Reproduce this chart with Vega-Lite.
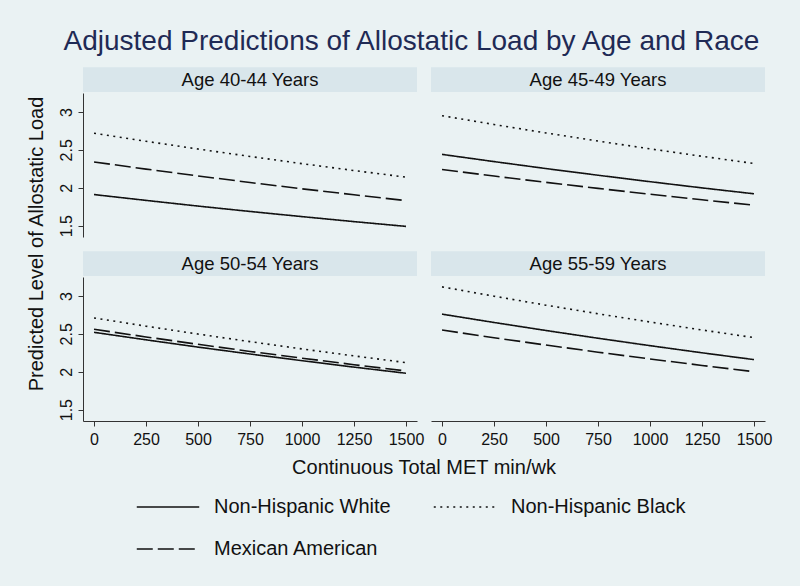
{
  "$schema": "https://vega.github.io/schema/vega-lite/v6.json",
  "background": "#EAF2F3",
  "padding": {"left": 26, "top": 28, "right": 34, "bottom": 30},
  "title": {
    "text": "Adjusted Predictions of Allostatic Load by Age and Race",
    "font": "Liberation Sans",
    "fontSize": 28,
    "fontWeight": "normal",
    "color": "#1F2A55",
    "anchor": "middle",
    "dx": 12,
    "offset": 11
  },
  "data": {
    "values": [
      {"age": "Age 40-44 Years", "met": 0, "race": "Non-Hispanic White", "load": 1.910},
      {"age": "Age 40-44 Years", "met": 250, "race": "Non-Hispanic White", "load": 1.833},
      {"age": "Age 40-44 Years", "met": 500, "race": "Non-Hispanic White", "load": 1.758},
      {"age": "Age 40-44 Years", "met": 750, "race": "Non-Hispanic White", "load": 1.687},
      {"age": "Age 40-44 Years", "met": 1000, "race": "Non-Hispanic White", "load": 1.619},
      {"age": "Age 40-44 Years", "met": 1250, "race": "Non-Hispanic White", "load": 1.553},
      {"age": "Age 40-44 Years", "met": 1500, "race": "Non-Hispanic White", "load": 1.490},
      {"age": "Age 40-44 Years", "met": 0, "race": "Non-Hispanic Black", "load": 2.720},
      {"age": "Age 40-44 Years", "met": 250, "race": "Non-Hispanic Black", "load": 2.613},
      {"age": "Age 40-44 Years", "met": 500, "race": "Non-Hispanic Black", "load": 2.511},
      {"age": "Age 40-44 Years", "met": 750, "race": "Non-Hispanic Black", "load": 2.413},
      {"age": "Age 40-44 Years", "met": 1000, "race": "Non-Hispanic Black", "load": 2.318},
      {"age": "Age 40-44 Years", "met": 1250, "race": "Non-Hispanic Black", "load": 2.227},
      {"age": "Age 40-44 Years", "met": 1500, "race": "Non-Hispanic Black", "load": 2.140},
      {"age": "Age 40-44 Years", "met": 0, "race": "Mexican American", "load": 2.340},
      {"age": "Age 40-44 Years", "met": 250, "race": "Mexican American", "load": 2.246},
      {"age": "Age 40-44 Years", "met": 500, "race": "Mexican American", "load": 2.156},
      {"age": "Age 40-44 Years", "met": 750, "race": "Mexican American", "load": 2.069},
      {"age": "Age 40-44 Years", "met": 1000, "race": "Mexican American", "load": 1.986},
      {"age": "Age 40-44 Years", "met": 1250, "race": "Mexican American", "load": 1.907},
      {"age": "Age 40-44 Years", "met": 1500, "race": "Mexican American", "load": 1.830},
      {"age": "Age 45-49 Years", "met": 0, "race": "Non-Hispanic White", "load": 2.440},
      {"age": "Age 45-49 Years", "met": 250, "race": "Non-Hispanic White", "load": 2.345},
      {"age": "Age 45-49 Years", "met": 500, "race": "Non-Hispanic White", "load": 2.253},
      {"age": "Age 45-49 Years", "met": 750, "race": "Non-Hispanic White", "load": 2.165},
      {"age": "Age 45-49 Years", "met": 1000, "race": "Non-Hispanic White", "load": 2.080},
      {"age": "Age 45-49 Years", "met": 1250, "race": "Non-Hispanic White", "load": 1.998},
      {"age": "Age 45-49 Years", "met": 1500, "race": "Non-Hispanic White", "load": 1.920},
      {"age": "Age 45-49 Years", "met": 0, "race": "Non-Hispanic Black", "load": 2.950},
      {"age": "Age 45-49 Years", "met": 250, "race": "Non-Hispanic Black", "load": 2.834},
      {"age": "Age 45-49 Years", "met": 500, "race": "Non-Hispanic Black", "load": 2.723},
      {"age": "Age 45-49 Years", "met": 750, "race": "Non-Hispanic Black", "load": 2.616},
      {"age": "Age 45-49 Years", "met": 1000, "race": "Non-Hispanic Black", "load": 2.513},
      {"age": "Age 45-49 Years", "met": 1250, "race": "Non-Hispanic Black", "load": 2.415},
      {"age": "Age 45-49 Years", "met": 1500, "race": "Non-Hispanic Black", "load": 2.320},
      {"age": "Age 45-49 Years", "met": 0, "race": "Mexican American", "load": 2.240},
      {"age": "Age 45-49 Years", "met": 250, "race": "Mexican American", "load": 2.154},
      {"age": "Age 45-49 Years", "met": 500, "race": "Mexican American", "load": 2.071},
      {"age": "Age 45-49 Years", "met": 750, "race": "Mexican American", "load": 1.991},
      {"age": "Age 45-49 Years", "met": 1000, "race": "Mexican American", "load": 1.915},
      {"age": "Age 45-49 Years", "met": 1250, "race": "Mexican American", "load": 1.841},
      {"age": "Age 45-49 Years", "met": 1500, "race": "Mexican American", "load": 1.770},
      {"age": "Age 50-54 Years", "met": 0, "race": "Non-Hispanic White", "load": 2.520},
      {"age": "Age 50-54 Years", "met": 250, "race": "Non-Hispanic White", "load": 2.421},
      {"age": "Age 50-54 Years", "met": 500, "race": "Non-Hispanic White", "load": 2.325},
      {"age": "Age 50-54 Years", "met": 750, "race": "Non-Hispanic White", "load": 2.234},
      {"age": "Age 50-54 Years", "met": 1000, "race": "Non-Hispanic White", "load": 2.146},
      {"age": "Age 50-54 Years", "met": 1250, "race": "Non-Hispanic White", "load": 2.061},
      {"age": "Age 50-54 Years", "met": 1500, "race": "Non-Hispanic White", "load": 1.980},
      {"age": "Age 50-54 Years", "met": 0, "race": "Non-Hispanic Black", "load": 2.710},
      {"age": "Age 50-54 Years", "met": 250, "race": "Non-Hispanic Black", "load": 2.601},
      {"age": "Age 50-54 Years", "met": 500, "race": "Non-Hispanic Black", "load": 2.497},
      {"age": "Age 50-54 Years", "met": 750, "race": "Non-Hispanic Black", "load": 2.397},
      {"age": "Age 50-54 Years", "met": 1000, "race": "Non-Hispanic Black", "load": 2.301},
      {"age": "Age 50-54 Years", "met": 1250, "race": "Non-Hispanic Black", "load": 2.209},
      {"age": "Age 50-54 Years", "met": 1500, "race": "Non-Hispanic Black", "load": 2.120},
      {"age": "Age 50-54 Years", "met": 0, "race": "Mexican American", "load": 2.560},
      {"age": "Age 50-54 Years", "met": 250, "race": "Mexican American", "load": 2.459},
      {"age": "Age 50-54 Years", "met": 500, "race": "Mexican American", "load": 2.362},
      {"age": "Age 50-54 Years", "met": 750, "race": "Mexican American", "load": 2.268},
      {"age": "Age 50-54 Years", "met": 1000, "race": "Mexican American", "load": 2.179},
      {"age": "Age 50-54 Years", "met": 1250, "race": "Mexican American", "load": 2.093},
      {"age": "Age 50-54 Years", "met": 1500, "race": "Mexican American", "load": 2.010},
      {"age": "Age 55-59 Years", "met": 0, "race": "Non-Hispanic White", "load": 2.760},
      {"age": "Age 55-59 Years", "met": 250, "race": "Non-Hispanic White", "load": 2.650},
      {"age": "Age 55-59 Years", "met": 500, "race": "Non-Hispanic White", "load": 2.544},
      {"age": "Age 55-59 Years", "met": 750, "race": "Non-Hispanic White", "load": 2.442},
      {"age": "Age 55-59 Years", "met": 1000, "race": "Non-Hispanic White", "load": 2.344},
      {"age": "Age 55-59 Years", "met": 1250, "race": "Non-Hispanic White", "load": 2.250},
      {"age": "Age 55-59 Years", "met": 1500, "race": "Non-Hispanic White", "load": 2.160},
      {"age": "Age 55-59 Years", "met": 0, "race": "Non-Hispanic Black", "load": 3.120},
      {"age": "Age 55-59 Years", "met": 250, "race": "Non-Hispanic Black", "load": 2.997},
      {"age": "Age 55-59 Years", "met": 500, "race": "Non-Hispanic Black", "load": 2.878},
      {"age": "Age 55-59 Years", "met": 750, "race": "Non-Hispanic Black", "load": 2.765},
      {"age": "Age 55-59 Years", "met": 1000, "race": "Non-Hispanic Black", "load": 2.656},
      {"age": "Age 55-59 Years", "met": 1250, "race": "Non-Hispanic Black", "load": 2.551},
      {"age": "Age 55-59 Years", "met": 1500, "race": "Non-Hispanic Black", "load": 2.450},
      {"age": "Age 55-59 Years", "met": 0, "race": "Mexican American", "load": 2.550},
      {"age": "Age 55-59 Years", "met": 250, "race": "Mexican American", "load": 2.449},
      {"age": "Age 55-59 Years", "met": 500, "race": "Mexican American", "load": 2.352},
      {"age": "Age 55-59 Years", "met": 750, "race": "Mexican American", "load": 2.258},
      {"age": "Age 55-59 Years", "met": 1000, "race": "Mexican American", "load": 2.169},
      {"age": "Age 55-59 Years", "met": 1250, "race": "Mexican American", "load": 2.083},
      {"age": "Age 55-59 Years", "met": 1500, "race": "Mexican American", "load": 2.000}
    ]
  },
  "transform": [
    {"calculate": "datum.age == 'Age 40-44 Years' || datum.age == 'Age 45-49 Years' ? 'top' : 'bottom'", "as": "panelRow"},
    {"calculate": "datum.age == 'Age 40-44 Years' || datum.age == 'Age 50-54 Years' ? 'left' : 'right'", "as": "panelCol"}
  ],
  "facet": {
    "row": {"field": "panelRow", "type": "nominal", "sort": ["top", "bottom"], "title": "Predicted Level of Allostatic Load",
      "header": {"labels": false, "titleOrient": "left", "titleFont": "Liberation Sans", "titleFontSize": 20, "titleFontWeight": "normal", "titleColor": "#111111", "titlePadding": 0}},
    "column": {"field": "panelCol", "type": "nominal", "sort": ["left", "right"], "title": "Continuous Total MET min/wk",
      "header": {"labels": false, "titleOrient": "bottom", "titleFont": "Liberation Sans", "titleFontSize": 20, "titleFontWeight": "normal", "titleColor": "#111111", "titlePadding": 1}}
  },
  "spacing": {"row": 14, "column": 14},
  "spec": {
    "width": 334,
    "height": 144,
    "layer": [
      {
        "transform": [{"aggregate": [{"op": "count", "as": "n"}], "groupby": ["age"]}],
        "mark": {"type": "rect", "fill": "#D9E6EB"},
        "encoding": {
          "x": {"datum": -53, "type": "quantitative"},
          "x2": {"datum": 1553},
          "y": {"datum": 3.263, "type": "quantitative"},
          "y2": {"datum": 3.591}
        }
      },
      {
        "transform": [{"aggregate": [{"op": "count", "as": "n"}], "groupby": ["age"]}],
        "mark": {"type": "text", "font": "Liberation Sans", "fontSize": 18.5, "color": "#111111", "baseline": "middle", "align": "center"},
        "encoding": {
          "x": {"datum": 750, "type": "quantitative"},
          "y": {"datum": 3.427, "type": "quantitative"},
          "text": {"field": "age", "type": "nominal"}
        }
      },
      {
        "mark": {"type": "line", "stroke": "#111111", "strokeWidth": 1.6},
        "encoding": {
          "x": {
            "field": "met", "type": "quantitative",
            "scale": {"domain": [-53, 1553], "nice": false, "zero": false},
            "axis": {"values": [0, 250, 500, 750, 1000, 1250, 1500], "format": "d", "title": null, "labelPadding": 5}
          },
          "y": {
            "field": "load", "type": "quantitative",
            "scale": {"domain": [1.35, 3.25], "nice": false, "zero": false},
            "axis": {"values": [1.5, 2, 2.5, 3], "format": "~g", "title": null, "labelAngle": 270, "labelAlign": "center", "labelBaseline": "middle", "labelPadding": 12}
          },
          "strokeDash": {
            "field": "race", "type": "nominal",
            "scale": {"domain": ["Non-Hispanic White", "Non-Hispanic Black", "Mexican American"], "range": [[1, 0], [2, 4.5], [16, 5]]},
            "legend": {"title": null, "orient": "none", "legendX": 53, "legendY": 382, "direction": "horizontal", "columns": 2, "symbolType": "stroke", "symbolSize": 3900, "symbolStrokeWidth": 1.5, "symbolStrokeColor": "#111111", "labelFontSize": 20, "labelFont": "Liberation Sans", "labelColor": "#111111", "columnPadding": 39, "rowPadding": -29, "labelOffset": 14, "labelLimit": 300}
          }
        }
      }
    ]
  },
  "config": {
    "view": {"stroke": null},
    "axis": {
      "grid": false,
      "domainColor": "#333333",
      "tickColor": "#333333",
      "tickSize": 5,
      "labelFont": "Liberation Sans",
      "labelFontSize": 16,
      "labelColor": "#111111",
      "labelPadding": 4
    }
  }
}
